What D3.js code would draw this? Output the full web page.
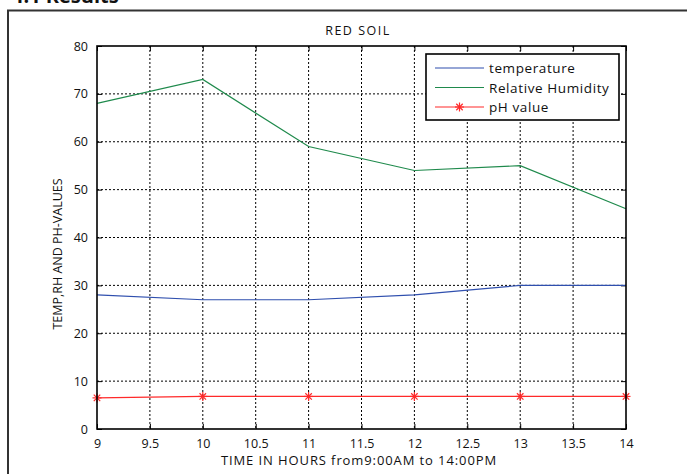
<!DOCTYPE html>
<html>
<head>
<meta charset="utf-8">
<script src="https://cdn.jsdelivr.net/npm/d3@7"></script>
<style>
  body { margin: 0; background: #fff; }
  text { font-family: "Open Sans", "DejaVu Sans", sans-serif; fill: #111; }
</style>
</head>
<body>
<div class="chart"></div>
<script>
const width = 687;
const height = 474;

// data
const hours = [9, 10, 11, 12, 13, 14];
const temperature = [28, 27, 27, 28, 30, 30];
const humidity = [68, 73, 59, 54, 55, 46];
const phValue = [6.5, 6.8, 6.8, 6.8, 6.8, 6.8];

const xTicks = [9, 9.5, 10, 10.5, 11, 11.5, 12, 12.5, 13, 13.5, 14];
const yTicks = [0, 10, 20, 30, 40, 50, 60, 70, 80];

const series = [
  {name: 'temperature', values: temperature, color: '#2f4fae', marker: false},
  {name: 'Relative Humidity', values: humidity, color: '#1f8a4c', marker: false},
  {name: 'pH value', values: phValue, color: '#ff2a2a', marker: true}
];

const m = {left: 97, right: 626, top: 46, bottom: 429};

const svg = d3.select('.chart').append('svg')
  .attr('width', width)
  .attr('height', height);

// heading of the page, cropped at the top like in the scan
svg.append('text')
  .attr('x', 12).attr('y', 3)
  .style('font-weight', 'bold')
  .style('font-size', '20px')
  .text('4.1 Results');

svg.append('path')
  .attr('d', `M8,${height} L8,10.5 L${width},10.5`)
  .attr('fill', 'none')
  .attr('stroke', '#333')
  .attr('stroke-width', 2);

const x = d3.scaleLinear().domain([9, 14]).range([m.left, m.right]);
const y = d3.scaleLinear().domain([0, 80]).range([m.bottom, m.top]);

// grid
const grid = svg.append('g');
grid.selectAll('.gx').data(xTicks.slice(1, -1))
  .enter().append('line')
  .attr('x1', d => x(d)).attr('x2', d => x(d))
  .attr('y1', m.top).attr('y2', m.bottom)
  .attr('stroke', '#000').attr('stroke-dasharray', '2,2');
grid.selectAll('.gy').data(yTicks.slice(1, -1))
  .enter().append('line')
  .attr('y1', d => y(d)).attr('y2', d => y(d))
  .attr('x1', m.left).attr('x2', m.right)
  .attr('stroke', '#000').attr('stroke-dasharray', '2,2');

// axes (ticks inside, like matlab)
const fmt = d => d;
svg.append('g')
  .attr('transform', `translate(0,${m.bottom})`)
  .call(d3.axisBottom(x).tickValues(xTicks).tickFormat(fmt).tickSizeInner(-5).tickSizeOuter(0).tickPadding(10))
  .call(g => g.select('.domain').remove());
svg.append('g')
  .attr('transform', `translate(0,${m.top})`)
  .call(d3.axisTop(x).tickValues(xTicks).tickFormat('').tickSizeInner(-5).tickSizeOuter(0))
  .call(g => g.select('.domain').remove());
svg.append('g')
  .attr('transform', `translate(${m.left},0)`)
  .call(d3.axisLeft(y).tickValues(yTicks).tickFormat(fmt).tickSizeInner(-5).tickSizeOuter(0).tickPadding(9))
  .call(g => g.select('.domain').remove());
svg.append('g')
  .attr('transform', `translate(${m.right},0)`)
  .call(d3.axisRight(y).tickValues(yTicks).tickFormat('').tickSizeInner(-5).tickSizeOuter(0))
  .call(g => g.select('.domain').remove());

svg.selectAll('.tick text').style('font-size', '12.5px').style('font-family', '"Open Sans", sans-serif').attr('fill', '#111');

// lines
const line = d3.line().x((d, i) => x(hours[i])).y(d => y(d));

series.forEach(s => {
  svg.append('path')
    .datum(s.values)
    .attr('d', line)
    .attr('fill', 'none')
    .attr('stroke', s.color)
    .attr('stroke-width', 1.2);
});

function star(g, cx, cy, r, color) {
  const a = r * 0.72;
  [[0, -r, 0, r], [-r, 0, r, 0], [-a, -a, a, a], [-a, a, a, -a]].forEach(p => {
    g.append('line')
      .attr('x1', cx + p[0]).attr('y1', cy + p[1])
      .attr('x2', cx + p[2]).attr('y2', cy + p[3])
      .attr('stroke', color).attr('stroke-width', 1.2);
  });
}

const marks = svg.append('g');
phValue.forEach((v, i) => star(marks, x(hours[i]), y(v), 4.5, series[2].color));

// plot box
svg.append('rect')
  .attr('x', m.left).attr('y', m.top)
  .attr('width', m.right - m.left).attr('height', m.bottom - m.top)
  .attr('fill', 'none').attr('stroke', '#000').attr('stroke-width', 1.6);

// titles
svg.append('text')
  .attr('x', 358).attr('y', 35)
  .attr('text-anchor', 'middle')
  .style('font-size', '12.5px')
  .style('letter-spacing', '1.5px')
  .text('RED SOIL');

svg.append('text')
  .attr('x', 359).attr('y', 465)
  .attr('text-anchor', 'middle')
  .style('font-size', '13px')
  .style('letter-spacing', '0.9px')
  .text('TIME  IN HOURS  from9:00AM to 14:00PM');

svg.append('text')
  .attr('transform', `translate(62,254) rotate(-90)`)
  .attr('text-anchor', 'middle')
  .style('font-size', '12.5px')
  .text('TEMP,RH AND PH-VALUES');

// legend
const lg = svg.append('g');
lg.append('rect')
  .attr('x', 426).attr('y', 54).attr('width', 193).attr('height', 66)
  .attr('fill', '#fff').attr('stroke', '#000').attr('stroke-width', 1.6);

series.forEach((s, i) => {
  const ly = 68 + i * 19.5;
  lg.append('line')
    .attr('x1', 435).attr('x2', 484)
    .attr('y1', ly).attr('y2', ly)
    .attr('stroke', s.color).attr('stroke-width', 1.2);
  if (s.marker) star(lg, 459.5, ly, 4.5, s.color);
  lg.append('text')
    .attr('x', 489).attr('y', ly + 5)
    .style('font-size', '13.5px')
    .style('letter-spacing', '0.6px')
    .text(s.name);
});
</script>
</body>
</html>
